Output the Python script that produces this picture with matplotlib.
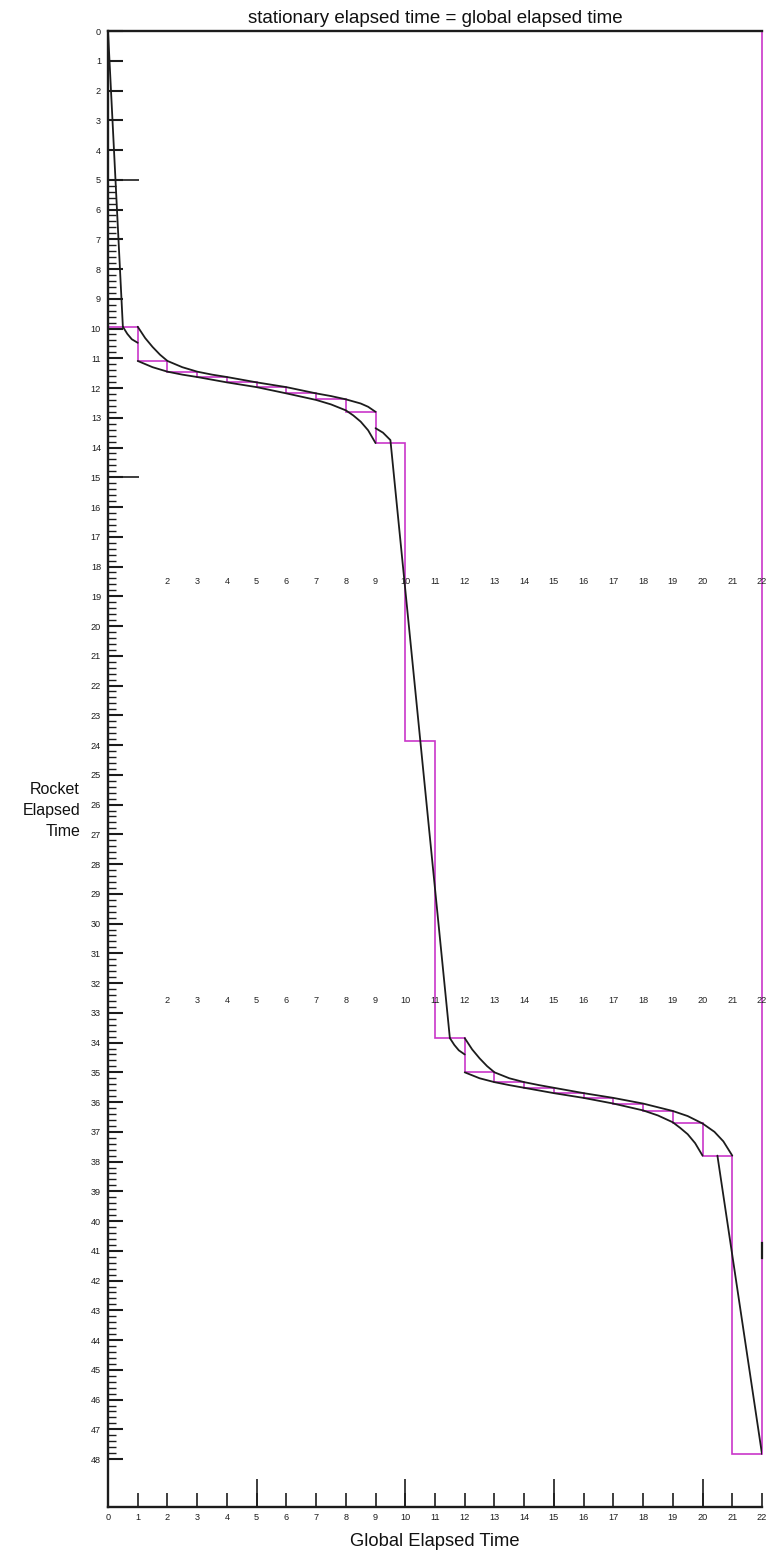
import numpy as np
import matplotlib
matplotlib.use("Agg")
import matplotlib.pyplot as plt
from matplotlib.lines import TICKRIGHT, TICKUP

plt.rcParams['font.family'] = ['Liberation Sans', 'DejaVu Sans']

# ---------------- data ----------------
title = "stationary elapsed time = global elapsed time"
x_label = "Global Elapsed Time"
y_label = "Rocket\nElapsed\nTime"

x_ticks = list(range(0, 23))
y_ticks = list(range(0, 49))
long_x_ticks = [5, 10, 15, 20]
long_y_ticks = [5, 15]

# magenta staircase: level held from x=i to x=i+1
step_edges = list(range(0, 23))
step_levels = [9.94, 11.09, 11.45, 11.63, 11.81, 11.97, 12.18, 12.38, 12.80, 13.85,
               23.85, 33.85, 35.00, 35.33, 35.52, 35.70, 35.86, 36.05, 36.30, 36.72,
               37.80, 47.83]

# black world-line pieces
start_x = [0.0, 0.5]
start_y = [0.0, 9.94]

up_hook_x = [0.5, 0.65, 0.8, 1.0]
up_hook_y = [9.94, 10.18, 10.36, 10.48]

up_u_x = [1.0, 1.25, 1.5, 1.75, 2.0, 2.5, 3.0, 3.5, 4.0, 5.0, 6.0, 7.0, 7.5, 8.0, 8.5, 8.75, 9.0]
up_u_y = [9.94, 10.32, 10.62, 10.88, 11.09, 11.30, 11.45, 11.55, 11.63, 11.81, 11.97, 12.18,
          12.27, 12.38, 12.52, 12.63, 12.80]

up_l_x = [1.0, 1.5, 2.0, 2.5, 3.0, 4.0, 5.0, 6.0, 7.0, 7.5, 8.0, 8.25, 8.5, 8.75, 9.0]
up_l_y = [11.09, 11.30, 11.45, 11.55, 11.63, 11.81, 11.97, 12.18, 12.40, 12.55, 12.75,
          12.92, 13.13, 13.42, 13.85]

mid_x = [9.0, 9.25, 9.5, 11.5]
mid_y = [13.35, 13.50, 13.75, 33.85]

lo_hook_x = [11.5, 11.65, 11.8, 12.0]
lo_hook_y = [33.85, 34.08, 34.26, 34.40]

lo_u_x = [12.0, 12.25, 12.5, 12.75, 13.0, 13.5, 14.0, 14.5, 15.0, 16.0, 17.0, 18.0, 19.0,
          19.5, 20.0, 20.4, 20.7, 21.0]
lo_u_y = [33.85, 34.23, 34.53, 34.79, 35.00, 35.20, 35.33, 35.43, 35.52, 35.70, 35.86, 36.05,
          36.30, 36.47, 36.72, 37.00, 37.32, 37.80]

lo_l_x = [12.0, 12.5, 13.0, 13.5, 14.0, 15.0, 16.0, 17.0, 18.0, 18.5, 19.0, 19.25, 19.5,
          19.75, 20.0]
lo_l_y = [35.00, 35.20, 35.33, 35.43, 35.52, 35.70, 35.86, 36.05, 36.28, 36.45, 36.68,
          36.87, 37.08, 37.38, 37.80]

end_x = [20.5, 22.0]
end_y = [37.80, 47.83]

mark_x = [22.0, 22.0]
mark_y = [40.74, 41.24]

# stray tick-label rows inside the plot
inner_label_vals = list(range(2, 23))
inner_label_rows = [18.5, 32.6]

# ---------------- figure ----------------
W, H = 768, 1553
fig = plt.figure(figsize=(W / 100, H / 100), dpi=100)
ax_left, ax_right, ax_top, ax_bottom = 108, 762, 31, 1507
ax = fig.add_axes([ax_left / W, 1 - ax_bottom / H, (ax_right - ax_left) / W,
                   (ax_bottom - ax_top) / H])
y_bottom = 49.61
ax.set_xlim(0, 22)
ax.set_ylim(y_bottom, 0)

black = '#1c1c1c'
magenta = '#C936C9'
lw_black = 1.3

for xs, ys in [(start_x, start_y), (up_hook_x, up_hook_y), (up_u_x, up_u_y),
               (up_l_x, up_l_y), (mid_x, mid_y), (lo_hook_x, lo_hook_y),
               (lo_u_x, lo_u_y), (lo_l_x, lo_l_y), (end_x, end_y)]:
    ax.plot(xs, ys, color=black, lw=lw_black, zorder=2, solid_capstyle='round')

ax.stairs(step_levels, step_edges, baseline=0, color=magenta, lw=1.2, zorder=1.2,
          clip_on=False)
ax.plot(mark_x, mark_y, color=black, lw=1.6, zorder=4, clip_on=False)

for row in inner_label_rows:
    for v in inner_label_vals:
        ax.text(v, row, str(v), ha='center', va='center', fontsize=6.6, color='#222222',
                zorder=5)

# spines
for s in ['left', 'top', 'bottom']:
    ax.spines[s].set_color(black)
    ax.spines[s].set_linewidth(1.7)
    ax.spines[s].set_zorder(3)
ax.spines['right'].set_visible(False)
ax.yaxis.set_zorder(2.6)
ax.xaxis.set_zorder(2.6)

# ticks
ax.set_yticks(y_ticks)
ax.set_yticklabels([str(v) for v in y_ticks])
minor_y = [v for v in np.arange(5.0, 48.01, 0.2) if abs(v - round(v)) > 1e-6]
ax.set_yticks(minor_y, minor=True)
ax.set_xticks(x_ticks)
ax.set_xticklabels([str(v) for v in x_ticks])
ax.tick_params(axis='y', which='major', direction='in', length=10.5, width=1.5,
               labelsize=6.6, pad=5, colors=black)
ax.tick_params(axis='y', which='minor', direction='in', length=6, width=1.0, colors=black)
ax.tick_params(axis='x', which='major', direction='in', length=10, width=1.2,
               labelsize=6.6, pad=4, colors=black)
ax.tick_params(top=False, right=False)

ax.plot([0] * len(long_y_ticks), long_y_ticks, ls='none', marker=TICKRIGHT, ms=22,
        mew=1.2, color=black, clip_on=False, zorder=4)
ax.plot(long_x_ticks, [y_bottom] * len(long_x_ticks), ls='none', marker=TICKUP, ms=20,
        mew=1.2, color=black, clip_on=False, zorder=4)

ax.set_title(title, fontsize=13.5, pad=6, color='#111111')
ax.set_xlabel(x_label, fontsize=13.2, labelpad=8, color='#111111')
fig.text(80 / W, 1 - 810 / H, y_label, ha='right', va='center', fontsize=11.5,
         linespacing=1.5, color='#111111')

fig.savefig('out.png', dpi=100, facecolor='white')
